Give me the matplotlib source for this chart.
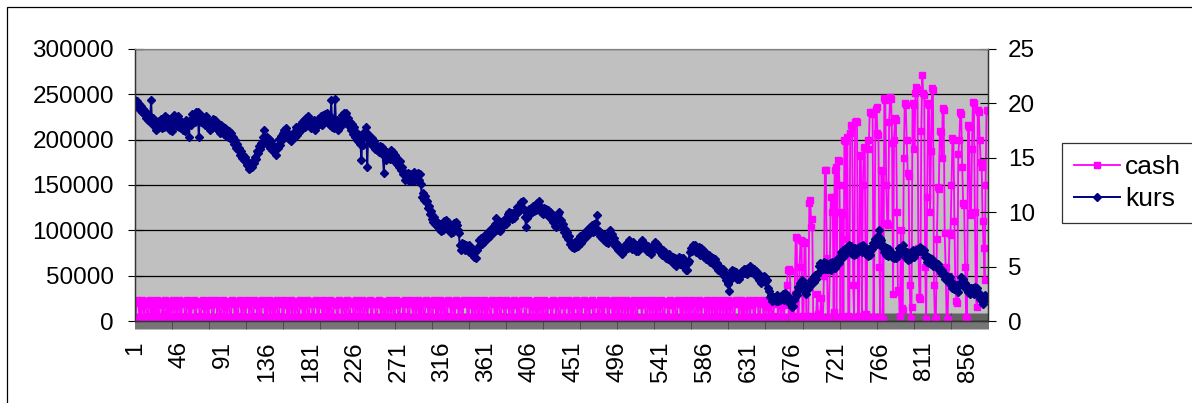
import numpy as np
import matplotlib
matplotlib.use("Agg")
import matplotlib.pyplot as plt
from matplotlib.patches import Rectangle
from matplotlib.ticker import FixedLocator, StrMethodFormatter

plt.rcParams['font.family'] = ['Liberation Sans', 'DejaVu Sans']

# exchange rate (right axis), one value per day
kurs = [
    20.3, 20.0, 20.2, 19.7, 19.9, 19.4, 19.8, 19.2, 19.5, 19.0,
    19.3, 18.7, 19.0, 18.5, 18.9, 18.3, 20.3, 18.2, 18.7, 17.9,
    18.4, 17.6, 18.3, 17.7, 18.4, 17.9, 18.6, 17.7, 18.5, 17.8,
    18.8, 18.2, 18.7, 17.9, 18.6, 17.6, 18.1, 17.5, 18.4, 17.9,
    18.9, 18.1, 18.6, 17.9, 18.8, 17.8, 18.4, 17.7, 18.3, 17.6,
    18.2, 17.5, 18.5, 17.9, 18.3, 16.9, 18.5, 18.0, 19.0, 18.4,
    18.9, 18.3, 19.2, 18.5, 19.2, 16.9, 18.9, 18.3, 18.8, 18.2,
    18.7, 18.0, 18.8, 17.9, 18.4, 17.8, 18.3, 17.6, 18.2, 17.7,
    18.6, 18.0, 18.5, 17.7, 18.2, 17.6, 18.1, 17.3, 18.0, 17.4,
    17.8, 17.2, 17.7, 17.0, 17.6, 16.9, 17.5, 16.8, 17.3, 16.6,
    16.9, 16.3, 16.6, 15.9, 16.3, 15.7, 15.9, 15.3, 15.6, 15.0,
    15.3, 14.8, 15.1, 14.6, 14.8, 14.3, 14.6, 14.0, 14.1, 14.4,
    14.2, 14.7, 14.5, 15.1, 14.9, 15.6, 15.4, 16.1, 15.8, 16.4,
    16.2, 16.9, 17.6, 16.8, 16.4, 16.9, 16.3, 16.7, 15.9, 16.5,
    15.7, 16.1, 15.5, 16.0, 15.3, 16.1, 15.9, 16.7, 16.2, 17.0,
    16.6, 17.3, 16.9, 17.6, 17.2, 17.7, 16.9, 17.3, 16.7, 17.1,
    16.5, 17.0, 16.8, 17.4, 16.9, 17.8, 17.1, 17.7, 17.4, 18.0,
    17.6, 18.3, 17.9, 18.5, 17.8, 18.7, 18.1, 18.8, 18.2, 18.5,
    17.7, 18.2, 17.8, 18.5, 17.6, 18.3, 17.9, 18.6, 18.1, 18.7,
    18.3, 18.8, 18.0, 18.9, 18.3, 19.0, 18.4, 19.1, 18.2, 18.9,
    18.0, 20.3, 17.8, 18.6, 17.7, 20.4, 17.9, 18.5, 17.6, 17.9,
    18.4, 17.9, 18.9, 18.5, 19.1, 18.4, 19.1, 18.3, 18.7, 17.9,
    18.3, 17.6, 18.1, 17.2, 17.8, 16.9, 17.4, 16.6, 17.1, 16.5,
    17.1, 16.3, 14.8, 16.7, 16.2, 17.4, 17.0, 17.8, 14.2, 17.2,
    16.6, 16.9, 16.3, 16.8, 16.1, 16.5, 15.8, 16.2, 15.7, 16.0,
    15.5, 16.1, 15.6, 16.0, 15.3, 13.6, 15.6, 14.8, 15.5, 15.0,
    15.4, 14.9, 15.7, 15.1, 15.5, 15.0, 15.3, 14.6, 15.1, 14.4,
    14.8, 14.2, 14.7, 13.9, 14.2, 13.5, 13.7, 13.0, 13.5, 13.1,
    13.6, 12.9, 13.5, 13.0, 13.3, 12.9, 13.7, 13.0, 13.4, 13.0,
    13.6, 13.0, 13.5, 12.6, 11.4, 11.8, 11.1, 11.5, 10.9, 11.0,
    10.4, 10.6, 9.8, 10.1, 9.4, 9.7, 9.1, 9.6, 8.9, 9.2,
    8.7, 9.0, 8.5, 8.9, 8.3, 8.6, 8.4, 9.2, 8.8, 9.3,
    8.5, 9.1, 8.7, 8.3, 8.1, 8.6, 8.2, 9.0, 8.6, 9.1,
    8.8, 8.4, 8.1, 7.0, 6.5, 7.2, 6.8, 7.1, 6.5, 7.0,
    6.6, 6.9, 6.3, 7.0, 6.4, 6.7, 6.2, 6.6, 5.9, 6.3,
    5.8, 6.5, 6.8, 7.4, 7.0, 7.6, 7.1, 7.7, 7.3, 7.9,
    7.5, 8.1, 7.6, 8.3, 7.8, 8.5, 8.1, 8.6, 8.2, 8.9,
    9.5, 8.8, 8.4, 8.7, 8.3, 9.1, 8.7, 9.2, 8.8, 9.4,
    8.9, 9.5, 9.2, 9.8, 10.0, 9.5, 9.9, 9.4, 9.9, 9.5,
    10.0, 9.8, 10.5, 10.0, 10.6, 10.2, 10.9, 10.5, 11.0, 10.2,
    9.6, 8.6, 9.5, 9.9, 10.3, 9.8, 10.4, 10.0, 10.6, 10.1,
    10.7, 10.2, 10.8, 10.5, 11.0, 10.2, 10.5, 9.9, 10.3, 9.8,
    10.4, 9.9, 10.3, 9.7, 10.2, 9.8, 10.0, 9.4, 9.8, 9.1,
    9.3, 8.7, 8.6, 9.4, 9.8, 10.0, 9.2, 9.3, 8.6, 8.9,
    8.2, 8.5, 7.8, 8.2, 7.5, 7.8, 7.1, 7.3, 6.8, 7.0,
    6.7, 7.3, 6.8, 7.4, 6.9, 7.5, 7.2, 7.8, 7.2, 7.7,
    7.5, 8.1, 7.6, 8.3, 8.0, 8.5, 8.0, 8.6, 8.3, 8.8,
    8.2, 8.9, 8.3, 9.0, 9.7, 8.4, 8.3, 7.8, 8.1, 7.6,
    8.0, 7.4, 7.9, 7.3, 7.7, 7.2, 8.0, 8.4, 7.8, 8.0,
    7.3, 7.6, 6.9, 7.2, 6.7, 7.1, 6.5, 6.8, 6.4, 6.6,
    6.2, 6.7, 6.4, 7.0, 6.6, 7.2, 6.7, 7.4, 6.8, 7.0,
    6.6, 7.3, 6.7, 6.9, 6.4, 7.0, 6.4, 6.7, 6.8, 7.3,
    7.4, 6.9, 7.1, 6.8, 7.0, 6.4, 6.9, 6.3, 6.7, 6.2,
    6.8, 6.5, 7.1, 6.7, 7.3, 6.9, 7.1, 6.5, 6.8, 6.4,
    6.6, 6.1, 6.5, 6.2, 6.3, 5.8, 6.1, 5.7, 6.2, 5.6,
    5.8, 5.4, 5.9, 5.2, 5.8, 5.1, 5.5, 5.3, 5.9, 5.2,
    5.8, 5.3, 5.8, 5.0, 5.3, 4.7, 4.7, 5.3, 5.5, 6.3,
    6.4, 6.7, 6.4, 7.0, 6.5, 7.0, 6.3, 6.6, 6.4, 6.8,
    6.1, 6.7, 6.2, 6.5, 5.9, 6.3, 5.7, 6.0, 5.8, 6.1,
    5.4, 5.9, 5.3, 5.8, 5.5, 5.7, 5.0, 5.3, 4.7, 5.0,
    4.6, 4.9, 4.5, 4.8, 4.1, 4.4, 3.8, 4.1, 3.4, 3.5,
    2.8, 3.8, 4.4, 4.7, 4.3, 4.6, 4.1, 4.5, 3.9, 4.3,
    3.9, 4.4, 4.2, 4.6, 4.4, 4.8, 4.4, 4.8, 4.3, 4.9,
    4.8, 5.1, 4.6, 4.9, 4.5, 4.8, 4.2, 4.6, 4.2, 4.4,
    3.8, 4.1, 3.5, 4.0, 3.8, 4.1, 3.6, 4.0, 3.7, 3.8,
    3.0, 2.8, 2.2, 2.4, 1.8, 2.2, 1.9, 2.2, 1.8, 2.4,
    1.8, 2.2, 1.9, 2.3, 2.0, 2.5, 1.9, 2.6, 2.0, 2.4,
    1.9, 2.1, 1.6, 1.8, 1.3, 1.4, 1.9, 2.2, 2.6, 2.4,
    3.1, 2.9, 3.5, 3.3, 3.8, 3.6, 3.5, 2.8, 3.0, 2.5,
    3.1, 2.9, 3.3, 3.2, 3.8, 3.5, 3.9, 3.6, 4.2, 3.9,
    4.2, 4.4, 5.1, 5.3, 4.9, 5.2, 4.8, 5.4, 4.8, 5.3,
    4.8, 5.1, 4.8, 5.3, 4.7, 5.4, 4.9, 5.0, 4.9, 5.5,
    5.2, 5.8, 5.3, 5.9, 5.7, 6.3, 5.8, 6.5, 6.0, 6.6,
    6.3, 6.8, 6.3, 7.0, 6.6, 6.9, 6.2, 6.7, 6.1, 6.7,
    6.2, 6.6, 6.4, 6.8, 6.5, 6.9, 6.3, 7.0, 6.4, 6.7,
    6.2, 6.6, 6.0, 6.6, 6.1, 6.7, 6.6, 7.2, 7.0, 7.5,
    7.2, 7.7, 7.1, 7.8, 8.4, 7.6, 7.4, 6.8, 7.0, 6.3,
    6.6, 6.1, 6.7, 6.0, 6.6, 6.1, 6.3, 5.9, 6.2, 5.8,
    6.1, 5.8, 6.2, 6.0, 6.7, 6.5, 6.6, 6.4, 7.0, 6.3,
    6.4, 5.8, 6.3, 5.6, 6.2, 5.7, 6.3, 6.0, 6.5, 5.9,
    6.4, 6.2, 6.5, 6.3, 6.6, 6.4, 6.8, 6.4, 6.6, 6.3,
    6.5, 5.9, 6.1, 5.4, 5.9, 5.3, 5.8, 5.2, 5.7, 5.1,
    5.4, 5.1, 5.3, 5.0, 5.2, 4.7, 4.9, 4.4, 4.7, 4.2,
    4.4, 3.9, 4.1, 3.8, 4.0, 3.5, 4.0, 3.3, 3.5, 3.0,
    3.5, 2.9, 3.2, 3.0, 3.3, 2.7, 3.4, 3.3, 4.0, 3.4,
    3.9, 3.3, 3.5, 2.9, 3.2, 2.7, 3.0, 2.5, 3.0, 2.7,
    3.0, 2.5, 3.1, 2.8, 3.0, 2.4, 2.6, 2.0, 2.2, 1.8,
    1.6, 2.0, 2.4, 2.0, 2.2, 2.1,
]

# cash (left axis), in thousands
cash_k = [
    1, 22, 23, 21, 4, 20, 2, 23, 18, 3, 21, 22, 6, 1, 19, 23, 20, 2, 12, 22,
    3, 21, 23, 5, 2, 18, 22, 20, 1, 8, 23, 21, 3, 19, 2, 22, 17, 4, 21, 23,
    2, 20, 22, 5, 18, 23, 1, 3, 21, 22, 19, 2, 6, 23, 20, 4, 22, 1, 18, 21,
    23, 3, 2, 20, 22, 19, 5, 1, 21, 23, 16, 2, 22, 20, 3, 4, 21, 23, 18, 2,
    1, 22, 20, 23, 3, 19, 21, 2, 5, 22, 23, 1, 20, 18, 4, 22, 21, 3, 2, 23,
    20, 19, 2, 22, 6, 1, 21, 23, 20, 3, 18, 22, 2, 4, 21, 23, 19, 1, 22, 20,
    3, 2, 23, 21, 18, 5, 22, 20, 1, 3, 23, 19, 21, 2, 22, 4, 20, 23, 1, 18,
    21, 3, 22, 2, 20, 23, 5, 1, 19, 22, 21, 3, 2, 23, 20, 18, 4, 22, 1, 21,
    23, 2, 19, 22, 3, 20, 21, 1, 4, 23, 22, 18, 2, 20, 3, 21, 23, 5, 1, 22,
    20, 19, 3, 2, 22, 23, 21, 4, 1, 20, 18, 22, 3, 23, 2, 21, 19, 5, 22, 1,
    23, 20, 2, 3, 21, 22, 18, 1, 4, 23, 20, 21, 2, 19, 22, 3, 1, 23, 20, 6,
    2, 21, 22, 19, 3, 1, 23, 20, 5, 22, 18, 2, 21, 23, 4, 3, 20, 22, 1, 19,
    21, 23, 2, 4, 22, 20, 19, 1, 3, 21, 23, 22, 2, 18, 20, 5, 1, 22, 21, 3,
    23, 19, 2, 20, 22, 4, 1, 21, 23, 18, 3, 2, 22, 20, 21, 5, 1, 23, 19, 22,
    3, 2, 20, 23, 21, 1, 18, 22, 4, 19, 23, 2, 21, 3, 22, 20, 1, 5, 23, 21,
    19, 2, 22, 20, 3, 1, 21, 23, 18, 4, 22, 2, 20, 23, 1, 19, 21, 3, 22, 5,
    2, 23, 20, 21, 1, 19, 22, 3, 4, 23, 18, 20, 2, 22, 21, 1, 3, 23, 19, 20,
    22, 4, 2, 21, 23, 18, 1, 20, 22, 3, 19, 23, 2, 5, 21, 22, 1, 20, 23, 3,
    18, 2, 22, 21, 4, 1, 23, 20, 19, 3, 22, 2, 21, 23, 5, 1, 20, 22, 18, 3,
    2, 23, 21, 19, 1, 22, 20, 4, 3, 23, 18, 21, 2, 22, 19, 1, 5, 23, 20, 21,
    3, 2, 22, 23, 19, 1, 21, 20, 4, 22, 18, 3, 23, 2, 21, 20, 1, 22, 19, 5,
    23, 21, 2, 3, 20, 22, 18, 1, 4, 23, 21, 19, 2, 22, 20, 3, 1, 23, 21, 18,
    4, 2, 22, 20, 23, 1, 19, 21, 3, 22, 2, 18, 23, 20, 5, 1, 21, 22, 3, 19,
    22, 23, 2, 4, 21, 20, 1, 18, 22, 23, 3, 2, 19, 21, 20, 5, 1, 23, 22, 3,
    21, 2, 19, 23, 20, 4, 1, 22, 18, 21, 3, 23, 2, 20, 22, 1, 19, 5, 23, 21,
    2, 22, 20, 3, 23, 18, 1, 21, 22, 4, 19, 2, 23, 20, 1, 3, 22, 21, 18, 23,
    3, 19, 22, 21, 2, 1, 23, 20, 4, 22, 18, 3, 21, 23, 2, 20, 1, 19, 22, 5,
    23, 21, 3, 2, 20, 22, 19, 1, 4, 23, 18, 21, 2, 22, 20, 3, 1, 23, 21, 19,
    2, 22, 4, 20, 23, 1, 21, 18, 3, 22, 19, 2, 23, 21, 5, 1, 20, 22, 3, 23,
    21, 2, 19, 22, 20, 4, 1, 23, 18, 3, 21, 22, 2, 20, 23, 1, 19, 5, 22, 21,
    3, 23, 20, 2, 21, 22, 1, 19, 4, 23, 18, 2, 22, 21, 3, 1, 20, 23, 19, 22,
    2, 21, 23, 3, 20, 1, 22, 19, 4, 21, 23, 2, 18, 22, 20, 3, 1, 23, 21, 20,
    4, 2, 22, 19, 23, 1, 21, 20, 3, 22, 18, 2, 23, 21, 1, 5, 20, 22, 19, 23,
    2, 21, 22, 3, 19, 20, 4, 22,
    18, 40, 56, 57, 55, 10, 3, 2, 5, 30,
    93, 92, 4, 2, 60, 89, 88, 3, 5, 86,
    87, 2, 3, 5, 130, 133, 104, 112, 4, 2,
    6, 3, 30, 8, 2, 4, 25, 3, 2, 50,
    167, 166, 70, 4, 2, 55, 137, 120, 137, 10,
    167, 170, 3, 178, 176, 150, 2, 120, 118, 4,
    200, 199, 90, 203, 5, 2, 207, 216, 214, 40,
    3, 220, 221, 219, 2, 6, 183, 182, 3, 150,
    192, 190, 8, 2, 200, 190, 230, 229,
    230, 228, 4, 90, 234, 236, 207, 205, 60, 3,
    167, 165, 2, 246, 244, 150, 108, 106, 220, 247,
    245, 196, 30, 200, 224, 222, 120, 34, 32, 5,
    100, 14, 12, 180, 240, 238, 200, 163, 160, 40,
    3, 15, 240, 238, 190, 252, 258, 256, 80, 26,
    24, 210, 271, 251, 249, 60, 2, 137, 240, 238,
    120, 188, 257, 255, 40, 1, 3, 90, 148, 146,
    210, 208, 180, 235, 233, 97, 60, 1, 2, 50,
    97, 95, 150, 202, 200, 110, 40, 22, 20, 184,
    200, 230, 228, 170, 130, 128, 60, 4, 1, 216,
    214, 119, 117, 190, 242, 240, 120, 30, 15, 233,
    231, 200, 175, 170, 110, 80, 45, 150, 233, 232,
]

x_labels = ['1', '46', '91', '136', '181', '226', '271', '316', '361', '406',
            '451', '496', '541', '586', '631', '676', '721', '766', '811', '856']
left_ticks = [0, 50000, 100000, 150000, 200000, 250000, 300000]
right_ticks = [0, 5, 10, 15, 20, 25]

W, H = 1192, 403
fig = plt.figure(figsize=(W / 100, H / 100), dpi=100)
fig.patch.set_facecolor('white')
fig.patches.append(Rectangle((7 / W, -0.1), 1.2, 1.1 - 7 / H, transform=fig.transFigure,
                             fill=False, edgecolor='black', linewidth=0.9))

ax = fig.add_axes([135 / W, (H - 321) / H, (988 - 135) / W, (321 - 49) / H])
ax.set_facecolor('#C0C0C0')

n = len(kurs)
cash = np.array(cash_k) * 1000
x_cash = np.arange(1, len(cash) + 1)
x_kurs = np.arange(1, n + 1)

l1, = ax.plot(x_cash, cash, color='#FF00FF', lw=1.3, marker='s', ms=4.6,
              mec='#FF00FF', mfc='#FF00FF', label='cash')
ax.set_ylim(0, 300000)
ax.set_xlim(0.5, n + 0.5)
ax.yaxis.set_major_locator(FixedLocator(left_ticks))
ax.yaxis.set_major_formatter(StrMethodFormatter('{x:.0f}'))
ax.grid(axis='y', color='black', lw=0.9)
ax.set_axisbelow(True)

label_pos = [int(s) for s in x_labels]
ax.set_xticks(label_pos)
ax.set_xticklabels(x_labels, rotation=90)
ax.xaxis.set_minor_locator(FixedLocator(np.arange(1, n + 1)))
ax.tick_params(axis='x', which='both', direction='inout', length=12, width=0.5,
               color='#3a3a3a', labelsize=17.5, pad=8.5)
ax.tick_params(axis='y', direction='inout', length=10.8, width=0.8, labelsize=17.5, pad=9.7)

ax2 = ax.twinx()
l2, = ax2.plot(x_kurs, kurs, color='#000080', lw=1.4, marker='D', ms=3.7,
               mec='#000080', mfc='#000080', label='kurs')
ax2.set_ylim(0, 25)
ax2.yaxis.set_major_locator(FixedLocator(right_ticks))
ax2.tick_params(axis='y', direction='inout', length=12, width=0.8, labelsize=17.5, pad=8.3)

for a in (ax, ax2):
    for side in ('left', 'right', 'bottom'):
        a.spines[side].set_color('#333333')
        a.spines[side].set_linewidth(0.9)
    a.spines['top'].set_color('#808080')

leg = fig.legend([l1, l2], ['cash', 'kurs'], loc='upper left',
                 bbox_to_anchor=(1062 / W, 1 - 143 / H), bbox_transform=fig.transFigure,
                 frameon=True, fancybox=False, edgecolor='black', fontsize=19,
                 handlelength=1.75, handletextpad=0.2, borderpad=0.45,
                 labelspacing=0.3, borderaxespad=0)
leg.get_frame().set_linewidth(0.9)

fig.savefig('out.png', dpi=100)
